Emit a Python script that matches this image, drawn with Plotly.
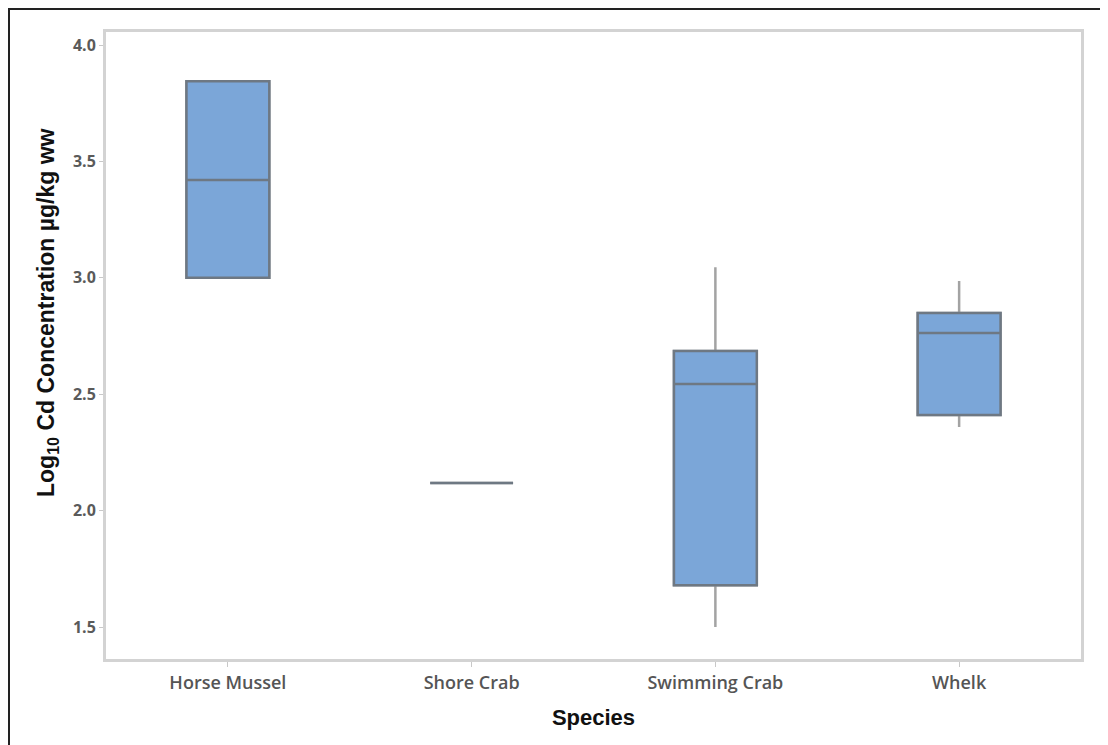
import plotly.graph_objects as go

species = ["Horse Mussel", "Shore Crab", "Swimming Crab", "Whelk"]
q1 = [3.00, 2.119, 1.680, 2.411]
median = [3.42, 2.119, 2.544, 2.763]
q3 = [3.845, 2.119, 2.686, 2.849]
lower = [3.00, 2.119, 1.50, 2.359]
upper = [3.845, 2.119, 3.046, 2.986]

# page offset (body margin) compensation
OFF = 8
W, H = 1108 - OFF, 745 - OFF
L, R, T, B = 106 - OFF, 27, 32 - OFF, 86
PW, PH = W - L - R, H - T - B

fig = go.Figure()
# whiskers (light grey)
fig.add_trace(go.Box(
    x=species, q1=q1, median=median, q3=q3,
    lowerfence=lower, upperfence=upper,
    fillcolor="#7BA6D8",
    line=dict(color="#A3A3A3", width=2.5),
    whiskerwidth=0, width=0.34, boxpoints=False,
    showlegend=False, hoverinfo="skip",
))
# box body (darker outline)
fig.add_trace(go.Box(
    x=species, q1=q1, median=median, q3=q3,
    lowerfence=q1, upperfence=q3,
    fillcolor="#7BA6D8",
    line=dict(color="#6E7883", width=2.5),
    whiskerwidth=0, width=0.34, boxpoints=False,
    showlegend=False, hoverinfo="skip",
))

fig.update_layout(
    width=W, height=H,
    margin=dict(l=L, r=R, t=T, b=B),
    paper_bgcolor="white", plot_bgcolor="white",
    boxmode="overlay",
    font=dict(family="Open Sans", color="#555555", size=15),
)
fig.update_xaxes(
    range=[-0.5, 3.5],
    showline=True, linecolor="#D3D3D3", linewidth=3, mirror=True,
    ticks="outside", ticklen=5, tickcolor="#C8C8C8",
    tickfont=dict(family="Open Sans", size=18, color="#555555", weight=600),
    title=dict(text="Species", font=dict(family="Liberation Sans", size=22, color="#111111", weight="bold"), standoff=18),
    showgrid=False, zeroline=False,
)
fig.update_yaxes(
    range=[1.363, 4.056],
    tickvals=[1.5, 2.0, 2.5, 3.0, 3.5, 4.0],
    ticktext=["1.5", "2.0", "2.5", "3.0", "3.5", "4.0"],
    showline=True, linecolor="#D3D3D3", linewidth=3, mirror=True,
    ticks="outside", ticklen=4, tickcolor="#C8C8C8",
    tickfont=dict(family="Open Sans", size=16, color="#5A5A5A", weight="bold"),
    showgrid=False, zeroline=False,
)
fig.add_annotation(
    text="Log<sub>10</sub> Cd Concentration µg/kg ww",
    xref="paper", yref="paper",
    x=(39 - L) / PW, y=1 - (305 - T) / PH,
    xanchor="center", yanchor="middle", textangle=-90, showarrow=False,
    font=dict(family="Liberation Sans", size=23, color="#111111", weight="bold"),
)
fig.add_shape(type="rect", xref="paper", yref="paper",
              x0=(1 - L) / PW, x1=1.2, y0=-0.3, y1=1 + (T - 1) / PH,
              line=dict(color="#222222", width=2), layer="below")

fig.write_html("out.html")
